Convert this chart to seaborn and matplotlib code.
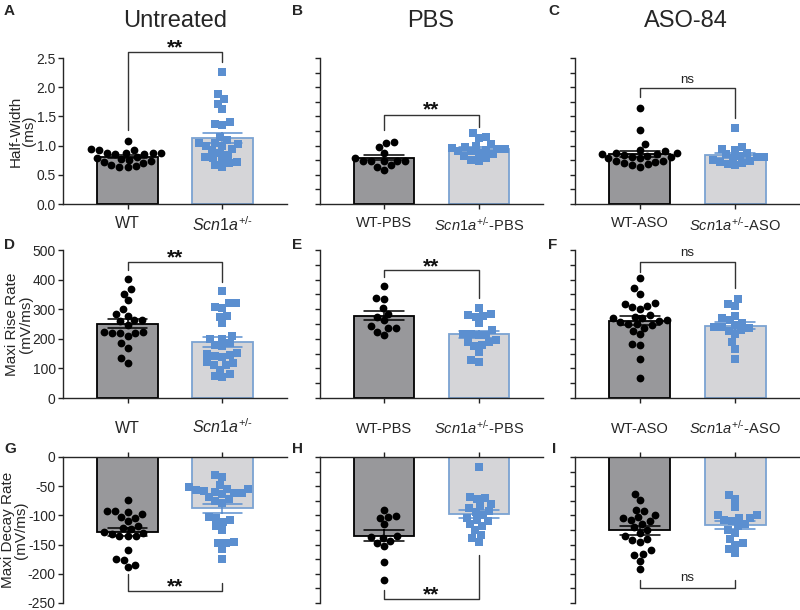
import pandas as pd
import seaborn as sns
import matplotlib.pyplot as plt
from matplotlib.ticker import MultipleLocator

# Half-width (ms)
hw_untr_wt = [1.08, 0.95, 0.93, 0.92, 0.88, 0.88, 0.87, 0.87, 0.86, 0.85, 0.80,
              0.78, 0.77, 0.76, 0.74, 0.72, 0.70, 0.66, 0.65, 0.64, 0.63]
hw_untr_het = [2.26, 1.88, 1.80, 1.72, 1.62, 1.40, 1.37, 1.35, 1.05, 0.95, 1.10,
               1.00, 1.15, 1.05, 1.02, 1.00, 0.92, 0.88, 0.84, 0.80, 0.78, 0.76,
               0.72, 0.70, 0.66, 0.63]
hw_pbs_wt = [1.07, 1.04, 0.98, 0.88, 0.78, 0.74, 0.74, 0.74, 0.73, 0.73, 0.66, 0.63, 0.58]
hw_pbs_het = [1.21, 1.14, 1.13, 1.00, 0.95, 0.90, 1.02, 0.98, 0.96, 0.95, 0.92, 0.90,
              0.88, 0.85, 0.82, 0.79, 0.76, 0.74]
hw_aso_wt = [1.65, 1.26, 1.02, 0.92, 0.90, 0.88, 0.85, 0.80, 0.78, 0.88, 0.86, 0.84,
             0.83, 0.80, 0.78, 0.74, 0.74, 0.72, 0.70, 0.68, 0.66, 0.64]
hw_aso_het = [1.30, 0.98, 0.95, 0.92, 0.88, 0.85, 0.82, 0.80, 0.80, 0.78, 0.76, 0.74,
              0.72, 0.70, 0.68, 0.66]

# Maxi rise rate (mV/ms)
rise_untr_wt = [401, 367, 353, 330, 300, 283, 278, 265, 262, 260, 247, 222, 222, 221,
                220, 218, 210, 185, 168, 135, 118]
rise_untr_het = [362, 322, 320, 308, 305, 278, 275, 252, 208, 200, 198, 185, 180, 175,
                 152, 150, 145, 142, 140, 122, 118, 112, 110, 95, 80, 75, 72]
rise_pbs_wt = [378, 338, 333, 305, 285, 275, 262, 242, 238, 236, 224, 212]
rise_pbs_het = [305, 285, 280, 278, 275, 252, 230, 215, 215, 212, 212, 195, 190, 188,
                178, 175, 155, 128, 122]
rise_aso_wt = [406, 370, 352, 320, 310, 300, 318, 307, 280, 270, 260, 250, 275, 270,
               262, 256, 250, 245, 238, 228, 216, 182, 178, 131, 68]
rise_aso_het = [335, 318, 312, 270, 262, 245, 278, 240, 230, 255, 240, 238, 228, 215,
                188, 165, 132]

# Maxi decay rate (mV/ms)
decay_untr_wt = [-73, -92, -93, -95, -97, -103, -105, -110, -118, -122, -124, -128,
                 -130, -132, -135, -136, -136, -160, -174, -176, -185, -188]
decay_untr_het = [-30, -35, -48, -52, -54, -55, -57, -58, -60, -62, -62, -64, -68, -72,
                  -76, -78, -102, -105, -108, -112, -118, -125, -145, -147, -148, -158, -174]
decay_pbs_wt = [-90, -101, -103, -104, -115, -135, -137, -138, -143, -147, -152, -180, -211]
decay_pbs_het = [-17, -68, -70, -72, -80, -84, -88, -92, -95, -100, -104, -108, -110,
                 -115, -118, -125, -133, -138, -145]
decay_aso_wt = [-63, -74, -90, -93, -100, -103, -105, -108, -110, -115, -120, -125,
                -130, -136, -140, -142, -145, -160, -166, -168, -178, -192]
decay_aso_het = [-65, -72, -86, -100, -105, -100, -105, -108, -110, -115, -118, -125,
                 -130, -140, -148, -150, -158, -165]

labels_untr = ['WT', r'$\mathit{Scn1a}^{\text{+/-}}$']
labels_pbs = ['WT-PBS', r'$\mathit{Scn1a}^{\text{+/-}}$-PBS']
labels_aso = ['WT-ASO', r'$\mathit{Scn1a}^{\text{+/-}}$-ASO']

WT_FACE = '#97989b'
HET_FACE = '#d5d5d8'
HET_EDGE = '#7ba3d2'
HET_DOT = '#5b8fd0'

sns.set_style('ticks')
plt.rcParams['font.family'] = ['Liberation Sans', 'DejaVu Sans']
plt.rcParams['mathtext.fontset'] = 'custom'
plt.rcParams['mathtext.rm'] = 'Liberation Sans'
plt.rcParams['mathtext.it'] = 'Liberation Sans:italic'
plt.rcParams['axes.unicode_minus'] = False
plt.rcParams['axes.linewidth'] = 1.0

fig = plt.figure(figsize=(8, 6.1), dpi=100)


def px_axes(x0, x1, y0, y1):
    return fig.add_axes([x0 / 800, 1 - y1 / 610, (x1 - x0) / 800, (y1 - y0) / 610])


def draw(ax, wt, het, ylim, step, labels, lab_size, bracket, sig, row, ylabel=None, ylab_x=-0.13):
    df = pd.DataFrame({'group': ['wt'] * len(wt) + ['het'] * len(het),
                       'value': wt + het})
    order = ['wt', 'het']
    sns.barplot(data=df, x='group', y='value', order=order, hue='group',
                hue_order=order, palette={'wt': WT_FACE, 'het': HET_FACE},
                legend=False, errorbar='se', capsize=0.42, width=0.64,
                err_kws={'linewidth': 1.1}, ax=ax)
    for patch, ec in zip(ax.patches, ['black', HET_EDGE]):
        patch.set_edgecolor(ec)
        patch.set_linewidth(1.3)
    for line, c in zip(ax.lines, ['black', HET_DOT]):
        line.set_color(c)
        line.set_zorder(4)
    sns.swarmplot(data=df[df.group == 'wt'], x='group', y='value', order=order,
                  color='black', marker='o', size=5.6, linewidth=0, ax=ax, zorder=3)
    sns.swarmplot(data=df[df.group == 'het'], x='group', y='value', order=order,
                  color=HET_DOT, marker='s', size=5.3, linewidth=0, ax=ax, zorder=3)

    ax.set_xlim(-0.68, 1.68)
    ax.set_ylim(*ylim)
    ax.set_xlabel('')
    ax.set_xticks([0, 1])
    ax.yaxis.set_major_locator(MultipleLocator(step))
    ax.tick_params(axis='both', length=3.8, width=1.0, labelsize=10, color='#222222')
    ax.tick_params(axis='y', pad=1.5)

    if row == 0:
        ax.set_xticklabels(labels, fontsize=lab_size)
        ax.tick_params(axis='x', pad=4.5)
        sns.despine(ax=ax)
    elif row == 1:
        ax.set_xticklabels(['', ''])
        sns.despine(ax=ax)
    else:
        sns.despine(ax=ax, top=False, bottom=True)
        ax.xaxis.set_ticks_position('top')
        ax.set_xticklabels(labels, fontsize=lab_size)
        ax.tick_params(axis='x', top=True, bottom=False, labeltop=True,
                       labelbottom=False, pad=11)

    if ylabel:
        ax.set_ylabel(ylabel, fontsize=11, linespacing=0.95)
        ax.yaxis.set_label_coords(ylab_x, 0.5)
    else:
        ax.set_ylabel('')
        ax.set_yticklabels([])

    yl, yr, yb, yt = bracket
    ax.plot([0, 0, 1, 1], [yl, yb, yb, yr], color='#333333', lw=1.0,
            clip_on=False, zorder=5)
    if sig == 'ns':
        ax.text(0.5, yt, 'ns', ha='center', va='center', fontsize=9.5,
                color='#222222', clip_on=False)
    else:
        ax.text(0.5, yt, sig, ha='center', va='baseline', fontsize=15,
                fontweight='bold', color='#111111', clip_on=False)


cols = [(63, 287), (320, 543), (575, 800)]
rows = [(58, 204), (250, 398), (457, 603)]

panels = [
    (0, 0, hw_untr_wt, hw_untr_het, (0, 2.5), 0.5, labels_untr, 11.5, (1.27, 2.43, 2.60, 2.58), '**', 'Half-Width\n(ms)', -0.12),
    (0, 1, hw_pbs_wt, hw_pbs_het, (0, 2.5), 0.25, labels_pbs, 10.5, (1.27, 1.32, 1.52, 1.52), '**', None, 0),
    (0, 2, hw_aso_wt, hw_aso_het, (0, 2.5), 0.25, labels_aso, 10.5, (1.83, 1.47, 1.99, 2.13), 'ns', None, 0),
    (1, 0, rise_untr_wt, rise_untr_het, (0, 500), 100, labels_untr, 11.5, (432, 392, 459, 455), '**', 'Maxi Rise Rate\n(mV/ms)', -0.135),
    (1, 1, rise_pbs_wt, rise_pbs_het, (0, 500), 50, labels_pbs, 10.5, (409, 338, 432, 425), '**', None, 0),
    (1, 2, rise_aso_wt, rise_aso_het, (0, 500), 50, labels_aso, 10.5, (426, 372, 459, 490), 'ns', None, 0),
    (2, 0, decay_untr_wt, decay_untr_het, (-250, 0), 50, labels_untr, 11.5, (-200, -216, -229, -232), '**', 'Maxi Decay Rate\n(mV/ms)', -0.155),
    (2, 1, decay_pbs_wt, decay_pbs_het, (-250, 0), 25, labels_pbs, 10.5, (-228, -168, -243, -246), '**', None, 0),
    (2, 2, decay_aso_wt, decay_aso_het, (-250, 0), 25, labels_aso, 10.5, (-211, -211, -224, -207), 'ns', None, 0),
]

for r, c, wt, het, ylim, step, labels, lab_size, bracket, sig, ylabel, ylab_x in panels:
    ax = px_axes(cols[c][0], cols[c][1], rows[r][0], rows[r][1])
    draw(ax, wt, het, ylim, step, labels, lab_size, bracket, sig, r, ylabel, ylab_x)

# column titles
for x, title in [(175, 'Untreated'), (431, 'PBS'), (686, 'ASO-84')]:
    fig.text(x / 800, 1 - 21 / 610, title, ha='center', va='center', fontsize=17)

# panel letters
for x, y, letter in [(4, 11, 'A'), (292, 11, 'B'), (548, 11, 'C'),
                     (4, 245, 'D'), (292, 245, 'E'), (548, 245, 'F'),
                     (4, 449, 'G'), (292, 449, 'H'), (552, 449, 'I')]:
    fig.text(x / 800, 1 - y / 610, letter, ha='left', va='center',
             fontsize=11, fontweight='bold')

fig.savefig('out.png', dpi=100)
